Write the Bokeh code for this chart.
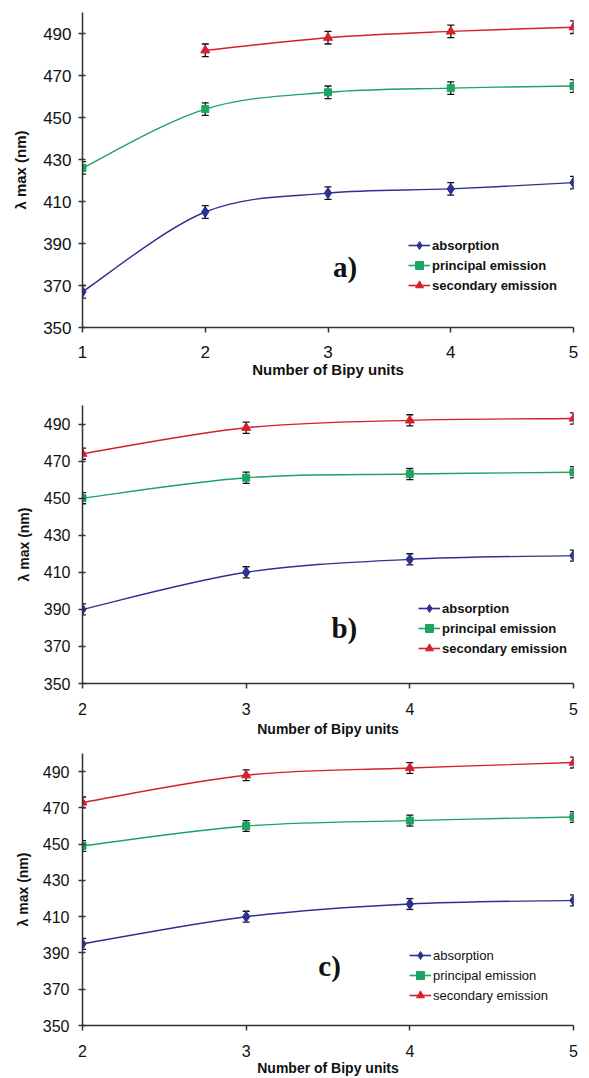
from bokeh.plotting import figure
from bokeh.layouts import column
from bokeh.models import (Whisker, TeeHead, ColumnDataSource, Legend, LegendItem,
                          Label, FixedTicker)
from bokeh.embed import file_html
from bokeh.resources import INLINE

# ---------------- data ----------------
series_names = ["absorption", "principal emission", "secondary emission"]
y_ticks = [350, 370, 390, 410, 430, 450, 470, 490]

a_x_ticks = [1, 2, 3, 4, 5]
a_x_abs = [1, 2, 3, 4, 5]
a_abs = [367, 405, 414, 416, 419]
a_x_pri = [1, 2, 3, 4, 5]
a_pri = [426, 454, 462, 464, 465]
a_x_sec = [2, 3, 4, 5]
a_sec = [482, 488, 491, 493]

b_x_ticks = [2, 3, 4, 5]
b_x = [2, 3, 4, 5]
b_abs = [390, 410, 417, 419]
b_pri = [450, 461, 463, 464]
b_sec = [474, 488, 492, 493]

c_x_ticks = [2, 3, 4, 5]
c_x = [2, 3, 4, 5]
c_abs = [395, 410, 417, 419]
c_pri = [449, 460, 463, 465]
c_sec = [473, 488, 492, 495]

err = 3  # +/- error bar half-length (nm)

# ---------------- style ----------------
FONT = "Liberation Sans"
BLUE = "#2e3191"
GREEN = "#1ba462"
RED = "#d4202a"
AXIS = "#333333"
COLORS = [BLUE, GREEN, RED]
MARKERS = [("diamond", 11), ("square", 7), ("triangle", 9)]
NAN = float("nan")


def smooth_source(xs, ys):
    """Bezier control points (Catmull-Rom style) so the curve passes through data points."""
    n = len(xs)
    d = dict(x0=[], y0=[], x1=[], y1=[], cx0=[], cy0=[], cx1=[], cy1=[])
    for i in range(n - 1):
        xm, ym = (xs[i - 1], ys[i - 1]) if i > 0 else (xs[i], ys[i])
        x2, y2 = (xs[i + 2], ys[i + 2]) if i + 2 < n else (xs[i + 1], ys[i + 1])
        d["x0"].append(xs[i]); d["y0"].append(ys[i])
        d["x1"].append(xs[i + 1]); d["y1"].append(ys[i + 1])
        d["cx0"].append(xs[i] + (xs[i + 1] - xm) / 6.0)
        d["cy0"].append(ys[i] + (ys[i + 1] - ym) / 6.0)
        d["cx1"].append(xs[i + 1] - (x2 - xs[i]) / 6.0)
        d["cy1"].append(ys[i + 1] - (y2 - ys[i]) / 6.0)
    return ColumnDataSource(d)


def make_panel(height, border, x_ticks, series, tag, tag_pos, legend_loc,
               tick_size, title_size, ylab_size, legend_bold, standoffs):
    top, bottom, left, right = border
    p = figure(width=589, height=height, x_range=(x_ticks[0], x_ticks[-1]),
               y_range=(350, 500), output_backend="svg", toolbar_location=None,
               min_border_top=top, min_border_bottom=bottom,
               min_border_left=left, min_border_right=right,
               background_fill_color="white", border_fill_color="white")
    p.outline_line_color = None
    p.xgrid.visible = False
    p.ygrid.visible = False

    xa = p.xaxis[0]
    ya = p.yaxis[0]
    xa.ticker = FixedTicker(ticks=x_ticks)
    ya.ticker = FixedTicker(ticks=y_ticks)
    for ax in (xa, ya):
        ax.axis_line_color = AXIS
        ax.axis_line_width = 1.5
        ax.major_tick_line_color = AXIS
        ax.major_tick_line_width = 1.5
        ax.minor_tick_line_color = None
        ax.major_label_text_font = FONT
        ax.major_label_text_font_size = tick_size
        ax.major_label_text_color = "#111111"
        ax.axis_label_text_font = FONT
        ax.axis_label_text_font_style = "bold"
        ax.axis_label_text_color = "#111111"
    xa.major_tick_in = 0
    xa.major_tick_out = 5
    ya.major_tick_in = 3
    ya.major_tick_out = 4
    xa.axis_label = "Number of Bipy units"
    ya.axis_label = "λ max (nm)"
    xa.axis_label_text_font_size = title_size
    ya.axis_label_text_font_size = ylab_size
    xa.major_label_standoff = standoffs[0]
    xa.axis_label_standoff = standoffs[1]
    ya.major_label_standoff = standoffs[2]
    ya.axis_label_standoff = standoffs[3]

    items = []
    for k, (xs, ys) in enumerate(series):
        col = COLORS[k]
        mk, sz = MARKERS[k]
        p.bezier(x0="x0", y0="y0", x1="x1", y1="y1", cx0="cx0", cy0="cy0",
                 cx1="cx1", cy1="cy1", source=smooth_source(xs, ys),
                 line_color=col, line_width=1.4)
        src = ColumnDataSource(dict(x=xs, y=ys,
                                    upper=[v + err for v in ys],
                                    lower=[v - err for v in ys]))
        p.add_layout(Whisker(source=src, base="x", upper="upper", lower="lower",
                             dimension="height", line_color="#111111", line_width=1.3,
                             upper_head=TeeHead(size=7, line_color="#111111", line_width=1.3),
                             lower_head=TeeHead(size=7, line_color="#111111", line_width=1.3)))
        sr = p.scatter("x", "y", source=src, marker=mk, size=sz,
                       fill_color=col, line_color=col)
        # legend-only line sample (no visible data)
        dummy = p.line(x=[NAN, NAN], y=[NAN, NAN], line_color=col, line_width=1.6)
        items.append(LegendItem(label=series_names[k], renderers=[dummy, sr]))

    leg = Legend(items=items, location=legend_loc, orientation="vertical",
                 border_line_alpha=0, background_fill_alpha=0,
                 padding=0, margin=0, spacing=0, label_standoff=2,
                 glyph_width=22, glyph_height=20, label_height=20,
                 label_text_font=FONT, label_text_font_size="13px",
                 label_text_font_style="bold" if legend_bold else "normal",
                 label_text_color="#111111")
    p.add_layout(leg)

    p.add_layout(Label(x=tag_pos[0], y=tag_pos[1], text=tag,
                       text_font="Liberation Serif", text_font_size="29px",
                       text_font_style="bold", text_align="center",
                       text_baseline="middle", text_color="#111111"))
    return p


pa = make_panel(380, (12, 52, 78, 11), a_x_ticks,
                [(a_x_abs, a_abs), (a_x_pri, a_pri), (a_x_sec, a_sec)],
                "a)", (3.14, 379), (326, 32), "17px", "15px", "15px", True,
                (13, 0, 7, 11))
pb = make_panel(360, (25, 57, 80, 6), b_x_ticks,
                [(b_x, b_abs), (b_x, b_pri), (b_x, b_sec)],
                "b)", (3.6, 380), (336, 25), "16px", "14px", "14px", True,
                (14, 3, 8, 9))
pc = make_panel(338, (13, 53, 82, 16), c_x_ticks,
                [(c_x, c_abs), (c_x, c_pri), (c_x, c_sec)],
                "c)", (3.51, 383), (327, 20), "16px", "14px", "14px", False,
                (14, 0, 9, 9))

layout = column(pa, pb, pc, spacing=0)
open("out.html", "w").write(file_html(layout, INLINE))
